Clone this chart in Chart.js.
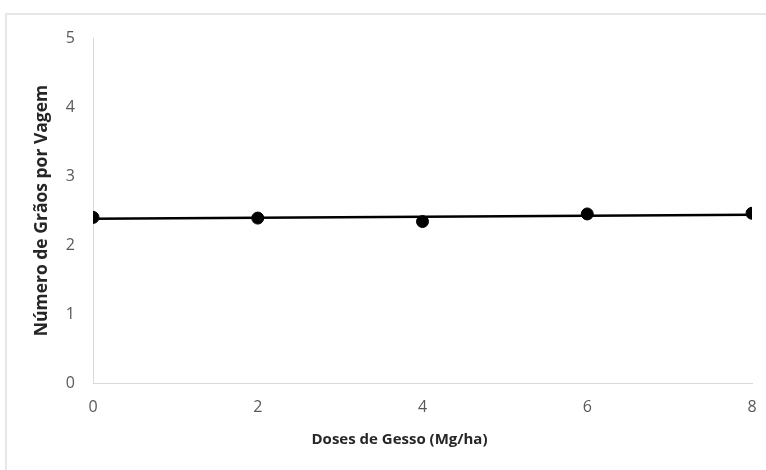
<!DOCTYPE html>
<html>
<head>
<meta charset="utf-8">
<script src="https://cdn.jsdelivr.net/npm/chart.js@4/dist/chart.umd.min.js"></script>
<style>
  body { margin: 0; background: #fff; }
  #wrap { position: relative; width: 766px; height: 470px; }
  #frame { position: absolute; left: 5px; top: 13px; right: 0; bottom: 0;
           border-top: 2px solid #e6e6e6; border-left: 2px solid #e6e6e6; }
  canvas { position: absolute; left: 0; top: 0; }
</style>
</head>
<body>
<div id="wrap">
  <div id="frame"></div>
  <canvas id="myChart" width="766" height="470"></canvas>
</div>
<script>
// data
const doses = [0, 2, 4, 6, 8];
const graos = [2.40, 2.39, 2.34, 2.45, 2.46];
// linear trend end points
const trendX = [0, 8];
const trendY = [2.38, 2.44];

const yTitle = "Número de Grãos por Vagem";
const xTitle = "Doses de Gesso (Mg/ha)";

const font = "'Open Sans', 'Liberation Sans', sans-serif";

// x title sits a bit left of the plot centre, like the excel original
const xTitlePlugin = {
    id: "xTitle",
    afterDraw(chart) {
        const c = chart.ctx;
        const area = chart.chartArea;
        c.save();
        c.font = "bold 15px " + font;
        c.fillStyle = "#262626";
        c.textAlign = "center";
        c.textBaseline = "middle";
        c.fillText(xTitle, (area.left + area.right) / 2 - 23, 440);
        c.restore();
    }
};

const ctx = document.getElementById("myChart").getContext("2d");

new Chart(ctx, {
    type: "scatter",
    data: {
        datasets: [
            {
                data: doses.map((x, i) => ({ x: x, y: graos[i] })),
                backgroundColor: "#000",
                borderColor: "#000",
                pointRadius: 6,
                showLine: false
            },
            {
                data: trendX.map((x, i) => ({ x: x, y: trendY[i] })),
                borderColor: "#000",
                borderWidth: 2.5,
                pointRadius: 0,
                showLine: true
            }
        ]
    },
    options: {
        responsive: false,
        animation: false,
        layout: { padding: { top: 38, right: 14, left: 28, bottom: 22 } },
        plugins: { legend: { display: false }, tooltip: { enabled: false } },
        scales: {
            x: {
                type: "linear",
                min: 0,
                max: 8,
                grid: { display: false },
                border: { color: "#d9d9d9", width: 1 },
                ticks: { stepSize: 2, color: "#595959", padding: 7, font: { family: font, size: 16 } },
                afterFit: s => { s.height = 65; }
            },
            y: {
                min: 0,
                max: 5,
                grid: { display: false },
                border: { color: "#d9d9d9", width: 1 },
                ticks: { stepSize: 1, color: "#595959", padding: 10, font: { family: font, size: 16 } },
                title: { display: true, text: yTitle, color: "#262626", padding: { top: 4, bottom: 4 }, font: { family: font, size: 17.5, weight: "bold" } },
                afterFit: s => { s.width = 65; }
            }
        }
    },
    plugins: [xTitlePlugin]
});
</script>
</body>
</html>
